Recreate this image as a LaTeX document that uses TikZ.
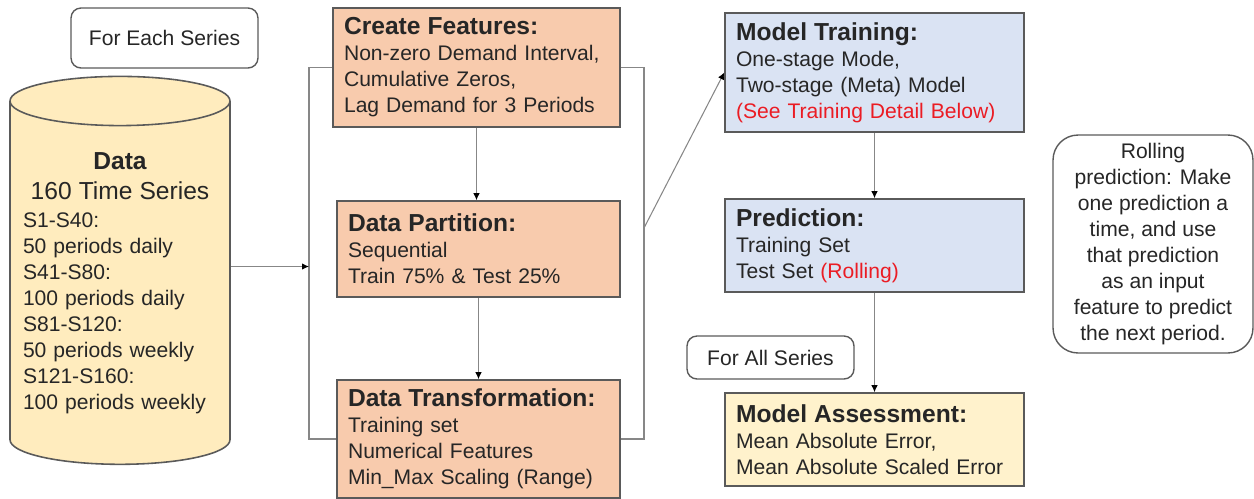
\documentclass[tikz,border=0pt]{standalone}
\usepackage{fontspec}
\setmainfont{Liberation Sans}
\usetikzlibrary{shapes.geometric,arrows.meta}
\definecolor{featfill}{RGB}{248,203,173}
\definecolor{modelfill}{RGB}{218,227,243}
\definecolor{assessfill}{RGB}{255,242,204}
\definecolor{datafill}{RGB}{255,236,190}
\definecolor{boxline}{RGB}{90,90,90}
\definecolor{linegray}{RGB}{135,135,135}
\definecolor{notered}{RGB}{235,28,36}
\newcommand{\boxhead}[1]{{\fontsize{14}{14.8}\selectfont\bfseries #1}}
\begin{document}
\begin{tikzpicture}[x=0.02cm, y=-0.02cm,
    box/.style={rectangle, draw=boxline, line width=0.9pt, inner xsep=0.22cm, inner ysep=0pt, align=left, text=black!85, font=\fontsize{12}{14.8}\selectfont},
    note/.style={rectangle, rounded corners=0.2cm, draw=boxline, line width=0.8pt, align=center, text=black!85, font=\fontsize{12}{14.8}\selectfont},
    line/.style={draw=linegray, line width=0.6pt},
    arrow/.style={line, -{Latex[length=1.4mm,width=1.3mm,color=black]}}
]
    \useasboundingbox (0,0) rectangle (1254,498);

    % Data source
    \node[note, minimum width=3.74cm, minimum height=1.2cm] (each) at (164.5,38) {For Each Series};
    \node[cylinder, shape border rotate=90, aspect=4.2, draw=boxline, line width=0.9pt, fill=datafill, minimum width=4.4cm, minimum height=7.76cm] (data) at (120,287) {};
    \node[align=left, text width=3.88cm, inner sep=0pt, text=black!85, font=\fontsize{12}{14.8}\selectfont] (datatxt) at (120,283) {%
        \makebox[\hsize][c]{\boxhead{Data}}\\[2.2pt]
        \makebox[\hsize][c]{\fontsize{14}{14.8}\selectfont 160 Time Series}\\[1.1pt]
        S1-S40:\\ 50 periods daily\\ S41-S80:\\ 100 periods daily\\
        S81-S120:\\ 50 periods weekly\\ S121-S160:\\ 100 periods weekly};

    % Preparation
    \node[box, fill=featfill, minimum width=5.74cm, minimum height=2.38cm, text width=5.3cm] (feat) at (476.5,67.5)
        {\boxhead{Create Features:}\\ Non-zero Demand Interval,\\ Cumulative Zeros,\\ Lag Demand for 3 Periods};
    \node[box, fill=featfill, minimum width=5.66cm, minimum height=1.92cm, text width=5.22cm] (part) at (478.5,249)
        {\boxhead{Data Partition:}\\ Sequential\\ Train 75\% \& Test 25\%};
    \node[box, fill=featfill, minimum width=5.66cm, minimum height=2.36cm, text width=5.22cm] (trans) at (478.5,439)
        {\boxhead{Data Transformation:}\\ Training set\\ Numerical Features\\ Min\_Max Scaling (Range)};

    % Modelling
    \node[box, fill=modelfill, minimum width=5.98cm, minimum height=2.38cm, text width=5.54cm] (train) at (874.5,72.5)
        {\boxhead{Model Training:}\\ One-stage Mode,\\ Two-stage (Meta) Model\\ \textcolor{notered}{(See Training Detail Below)}};
    \node[box, fill=modelfill, minimum width=5.98cm, minimum height=1.86cm, text width=5.54cm] (pred) at (874.5,245.5)
        {\boxhead{Prediction:}\\ Training Set\\ Test Set \textcolor{notered}{(Rolling)}};
    \node[box, fill=assessfill, minimum width=5.98cm, minimum height=1.86cm, text width=5.54cm] (assess) at (874.5,439.5)
        {\boxhead{Model Assessment:}\\ Mean Absolute Error,\\ Mean Absolute Scaled Error};
    \node[note, minimum width=3.34cm, minimum height=0.86cm] (all) at (770.5,357.5) {For All Series};
    \node[note, rounded corners=0.5cm, minimum width=4cm, minimum height=4.36cm] (rolling) at (1153,244)
        {Rolling\\ prediction: Make\\ one prediction a\\ time, and use\\ that prediction\\ as an input\\ feature to predict\\ the next period.};

    % Connectors
    \coordinate (lbr) at (309,266.5);
    \coordinate (rbr) at (644,228);
    \draw[line] (feat.west) -| (lbr) |- (trans.west);
    \draw[line] (feat.east) -| (rbr) |- (trans.east);
    \draw[arrow] (data.east |- lbr) -- (lbr);
    \draw[arrow] (feat.south) -- (feat.south |- part.north);
    \draw[arrow] (part.south) -- (part.south |- trans.north);
    \draw[arrow] (rbr) -- (train.west);
    \draw[arrow] (train.south) -- (pred.north);
    \draw[arrow] (pred.south) -- (assess.north);
\end{tikzpicture}
\end{document}
